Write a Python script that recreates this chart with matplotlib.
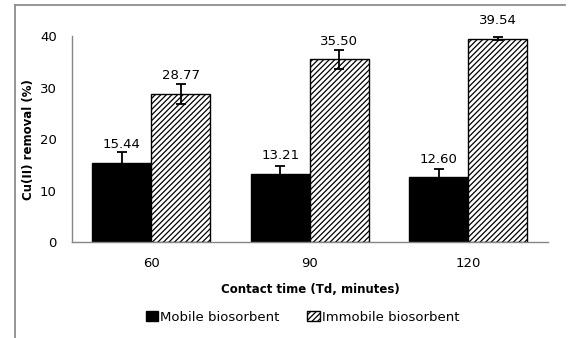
import numpy as np
import matplotlib
matplotlib.use('Agg')
import matplotlib.pyplot as plt
from matplotlib.lines import Line2D

# data
times = ['60', '90', '120']
mobile = [15.44, 13.21, 12.60]
immobile = [28.77, 35.50, 39.54]
mobile_err = [2.0, 1.6, 1.6]
immobile_err = [1.9, 1.9, 0.35]
mobile_labels = ['15.44', '13.21', '12.60']
immobile_labels = ['28.77', '35.50', '39.54']


def main():
    plt.rcParams['font.family'] = 'DejaVu Sans'
    plt.rcParams['font.size'] = 9.5
    plt.rcParams['hatch.linewidth'] = 0.9

    fig = plt.figure(figsize=(5.76, 3.38), dpi=100)
    ax = fig.add_axes([0.125, 0.284, 0.826, 0.609])

    x = np.arange(len(times))
    w = 0.372

    ax.bar(x - w/2, mobile, w, color='black', edgecolor='black', linewidth=1,
           label='Mobile biosorbent')
    ax.bar(x + w/2, immobile, w, color='white', edgecolor='black', linewidth=1,
           hatch='//////', label='Immobile biosorbent')

    ax.errorbar(x - w/2, mobile, yerr=mobile_err, fmt='none', ecolor='black',
                elinewidth=1.3, capsize=3.5, capthick=1.3)
    ax.errorbar(x + w/2, immobile, yerr=immobile_err, fmt='none', ecolor='black',
                elinewidth=1.3, capsize=3.5, capthick=1.3)

    # value labels, Excel style: fixed distance above the bar top
    for i in range(len(times)):
        ax.annotate(mobile_labels[i], (x[i] - w/2, mobile[i]), xytext=(0, 13),
                    textcoords='offset points', ha='center', va='center')
        ax.annotate(immobile_labels[i], (x[i] + w/2, immobile[i]), xytext=(0, 13),
                    textcoords='offset points', ha='center', va='center')

    ax.set_xlim(-0.5, len(times) - 0.5)
    ax.set_ylim(0, 40)
    ax.set_yticks([0, 10, 20, 30, 40])
    ax.set_xticks(x)
    ax.set_xticklabels(times)
    ax.tick_params(length=0, pad=11)
    ax.tick_params(axis='y', pad=11)

    for s in ['top', 'right']:
        ax.spines[s].set_visible(False)
    for s in ['left', 'bottom']:
        ax.spines[s].set_color('#868686')
        ax.spines[s].set_linewidth(1)

    ax.set_xlabel('Contact time (Td, minutes)', fontweight='bold', fontsize=8.5)
    ax.xaxis.set_label_coords(0.5, -0.233)
    ax.xaxis.label.set_va('center')
    ax.set_ylabel('Cu(II) removal (%)', fontweight='bold', fontsize=8.5)
    ax.yaxis.set_label_coords(-0.092, 0.5)
    ax.yaxis.label.set_va('center')

    fig.legend(loc='center', bbox_to_anchor=(0.525, 0.062), ncol=2, frameon=False,
               handlelength=0.95, handleheight=0.75, handletextpad=0.15,
               columnspacing=2.1)

    # outer frame (left and top only, as in the original)
    fig.add_artist(Line2D([0.026, 0.026], [0.0, 0.985], color='#8c8c8c', lw=1.3))
    fig.add_artist(Line2D([0.026, 0.981], [0.985, 0.985], color='#8c8c8c', lw=1.3))

    plt.savefig('out.png', dpi=100)


if __name__ == "__main__":
    main()
